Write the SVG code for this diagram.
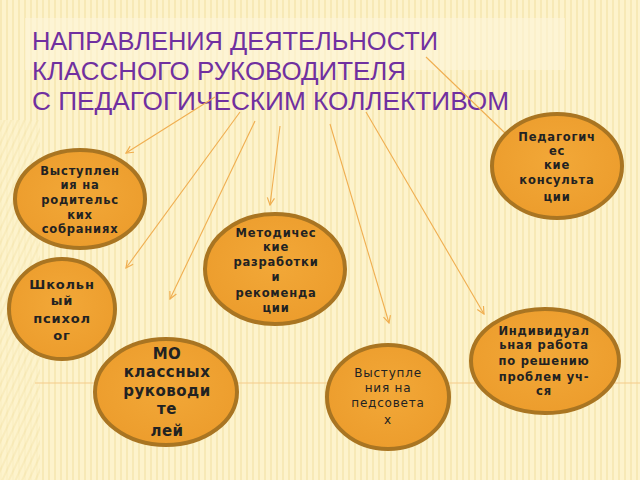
<svg xmlns="http://www.w3.org/2000/svg" width="640" height="480" viewBox="0 0 640 480">
<defs>
<pattern id="vs" width="6" height="10" patternUnits="userSpaceOnUse">
<rect width="6" height="10" fill="#FDF3CC"/>
<rect width="2" height="10" fill="#F7E9B6"/>
</pattern>
<pattern id="ds" width="6" height="6" patternUnits="userSpaceOnUse" patternTransform="rotate(25)">
<rect width="6" height="6" fill="#FDF3CC"/>
<rect width="2" height="6" fill="#F7E9B6"/>
</pattern>
<radialGradient id="og" cx="50%" cy="45%" r="60%">
<stop offset="0" stop-color="#F2A838"/>
<stop offset="1" stop-color="#EC9C2C"/>
</radialGradient>
<marker id="ah" viewBox="0 0 10 10" refX="9" refY="5" markerWidth="9" markerHeight="9" orient="auto" markerUnits="userSpaceOnUse">
<path d="M1,1 L9,5 L1,9" fill="none" stroke="#F0AE50" stroke-width="1.3"/>
</marker>
</defs>
<style>
.nd{fill:url(#og);stroke:#A97522;stroke-width:4}
.t{font-family:"DejaVu Sans",Verdana,sans-serif;font-weight:bold;font-size:11.5px;fill:#222;text-anchor:middle;letter-spacing:0.8px}
.tt{font-family:"Liberation Sans",Arial,sans-serif;font-size:25px;fill:#7030A0}
.cn{stroke:#F0AE50;stroke-width:1.1;fill:none}
</style>
<rect width="640" height="480" fill="url(#vs)"/>
<rect x="0" y="120" width="40" height="360" fill="url(#ds)" opacity="0.7"/>
<rect x="25" y="18" width="540" height="52" fill="#FDF5D8" opacity="0.6"/>
<line x1="35" y1="383" x2="640" y2="383" stroke="#F5CC8A" stroke-width="1.2"/>

<g id="title">
<text class="tt" x="32" y="50" textLength="406" lengthAdjust="spacingAndGlyphs">НАПРАВЛЕНИЯ ДЕЯТЕЛЬНОСТИ</text>
<text class="tt" x="32" y="80" textLength="374" lengthAdjust="spacingAndGlyphs">КЛАССНОГО РУКОВОДИТЕЛЯ</text>
<text class="tt" x="32" y="110" textLength="477" lengthAdjust="spacingAndGlyphs">С ПЕДАГОГИЧЕСКИМ КОЛЛЕКТИВОМ</text>
</g>

<g id="connectors">
<line class="cn" x1="215" y1="97" x2="126" y2="153" marker-end="url(#ah)"/>
<line class="cn" x1="240" y1="112" x2="126" y2="268" marker-end="url(#ah)"/>
<line class="cn" x1="255" y1="121" x2="170" y2="299" marker-end="url(#ah)"/>
<line class="cn" x1="280" y1="126" x2="270" y2="205" marker-end="url(#ah)"/>
<line class="cn" x1="330" y1="124" x2="389" y2="323" marker-end="url(#ah)"/>
<line class="cn" x1="366" y1="112" x2="484" y2="314" marker-end="url(#ah)"/>
<line class="cn" x1="426" y1="57" x2="505" y2="133"/>
</g>

<g id="n1">
<ellipse class="nd" cx="557" cy="166" rx="65" ry="52"/>
<text class="t"><tspan x="557" y="141">Педагогич</tspan><tspan x="557" y="155">ес</tspan><tspan x="557" y="169">кие</tspan><tspan x="557" y="184">консульта</tspan><tspan x="557" y="201">ции</tspan></text>
</g>
<g id="n2">
<ellipse class="nd" cx="80" cy="199" rx="65" ry="49"/>
<text class="t"><tspan x="80" y="175">Выступлен</tspan><tspan x="80" y="189">ия на</tspan><tspan x="80" y="204">родительс</tspan><tspan x="80" y="219">ких</tspan><tspan x="80" y="233">собраниях</tspan></text>
</g>
<g id="n3">
<ellipse class="nd" cx="275" cy="269" rx="70" ry="55"/>
<text class="t"><tspan x="276" y="237">Методичес</tspan><tspan x="276" y="251">кие</tspan><tspan x="276" y="266">разработки</tspan><tspan x="276" y="281">и</tspan><tspan x="276" y="297">рекоменда</tspan><tspan x="276" y="312">ции</tspan></text>
</g>
<g id="n4">
<ellipse class="nd" cx="62" cy="309" rx="53" ry="50"/>
<text class="t" style="font-size:13px;font-weight:600"><tspan x="62" y="289">Школьн</tspan><tspan x="62" y="305">ый</tspan><tspan x="62" y="323">психол</tspan><tspan x="62" y="340">ог</tspan></text>
</g>
<g id="n5">
<ellipse class="nd" cx="545" cy="361" rx="74" ry="52"/>
<text class="t"><tspan x="544" y="335">Индивидуал</tspan><tspan x="544" y="349">ьная работа</tspan><tspan x="544" y="365">по решению</tspan><tspan x="544" y="381">проблем уч-</tspan><tspan x="544" y="395">ся</tspan></text>
</g>
<g id="n6">
<ellipse class="nd" cx="166" cy="392" rx="71" ry="53"/>
<text class="t" style="font-size:15px;letter-spacing:0.5px"><tspan x="167" y="359">МО</tspan><tspan x="167" y="377">классных</tspan><tspan x="167" y="396">руководи</tspan><tspan x="167" y="414">те</tspan><tspan x="167" y="436">лей</tspan></text>
</g>
<g id="n7">
<ellipse class="nd" cx="388" cy="397" rx="61" ry="52"/>
<text class="t" style="font-weight:normal;font-size:12px"><tspan x="388" y="377">Выступле</tspan><tspan x="388" y="392">ния на</tspan><tspan x="388" y="407">педсовета</tspan><tspan x="388" y="424">х</tspan></text>
</g>
</svg>
